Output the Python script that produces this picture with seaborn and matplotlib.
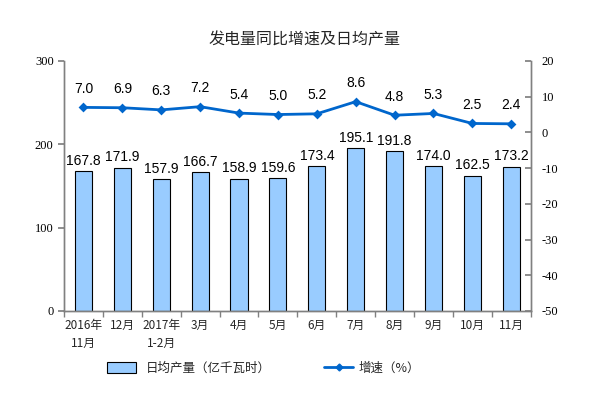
import matplotlib
matplotlib.use("Agg")
import matplotlib.pyplot as plt
import seaborn as sns
import pandas as pd
from matplotlib.patches import Patch
from matplotlib.lines import Line2D

categories = ["2016年\n11月", "12月", "2017年\n1-2月", "3月", "4月", "5月", "6月",
              "7月", "8月", "9月", "10月", "11月"]
daily_output = [167.8, 171.9, 157.9, 166.7, 158.9, 159.6, 173.4, 195.1, 191.8, 174.0, 162.5, 173.2]
growth = [7.0, 6.9, 6.3, 7.2, 5.4, 5.0, 5.2, 8.6, 4.8, 5.3, 2.5, 2.4]

sns.set_theme(style="white")
plt.rcParams['font.family'] = ['Noto Sans CJK SC', 'DejaVu Sans']

df = pd.DataFrame({"cat": categories, "out": daily_output, "g": growth})

fig = plt.figure(figsize=(6.1, 3.95), dpi=100)
ax = fig.add_axes([0.105, 0.2127, 0.765, 0.633])
bar_color = "#99CCFF"
line_color = "#0066CC"

sns.barplot(data=df, x="cat", y="out", ax=ax, color=bar_color, width=0.44,
            edgecolor="black", linewidth=0.8, saturation=1)
ax.set_ylim(0, 300)
ax.set_yticks([0, 100, 200, 300])
ax.set_xlabel("")
ax.set_ylabel("")
for i, v in enumerate(daily_output):
    ax.text(i, v + 4, f"{v:.1f}", ha="center", va="bottom", fontsize=10, color="black",
            family=["Liberation Sans", "DejaVu Sans"])

ax2 = ax.twinx()
sns.pointplot(data=df, x="cat", y="g", ax=ax2, color=line_color, markers="D",
              markersize=3.5, linewidth=2)
ax2.set_ylim(-50, 20)
ax2.set_yticks(range(-50, 21, 10))
ax2.set_ylabel("")
ax2.set_xlabel("")
for i, v in enumerate(growth):
    ax2.text(i, v + 3.2, f"{v:.1f}", ha="center", va="bottom", fontsize=10, color="black",
             family=["Liberation Sans", "DejaVu Sans"])

ax.set_xlim(-0.5, len(categories) - 0.5)
for a in (ax, ax2):
    for s in a.spines.values():
        s.set_color("#808080")
        s.set_linewidth(1)
    a.spines["top"].set_visible(False)

ax.tick_params(axis="y", direction="out", length=4, colors="#808080", labelcolor="black",
               labelsize=9, left=True)
ax.set_yticklabels(["0", "100", "200", "300"], family=["Liberation Serif", "DejaVu Serif"])
ax2.tick_params(axis="y", direction="in", length=4, colors="#808080", labelcolor="black",
                labelsize=9, right=True, pad=8)
ax2.set_yticklabels([str(t) for t in range(-50, 21, 10)], family=["Liberation Serif", "DejaVu Serif"])

ax.tick_params(axis="x", length=0, labelsize=8, pad=6)
ax.set_xticks(range(len(categories)))
ax.set_xticklabels(categories, fontsize=8.5, linespacing=1.5)
ax.set_xticks([i + 0.5 for i in range(-1, len(categories))], minor=True)
ax.tick_params(axis="x", which="minor", direction="out", length=4, color="#808080", bottom=True)

fig.text(0.5, 0.9, "发电量同比增速及日均产量", ha="center", va="center", fontsize=11.5,
         fontweight="medium")

handles = [Patch(facecolor=bar_color, edgecolor="black", linewidth=0.8),
           Line2D([0], [0], color=line_color, marker="D", markersize=3.5, linewidth=2)]
leg1 = fig.legend([handles[0]], ["日均产量（亿千瓦时）"], loc="center", bbox_to_anchor=(0.31, 0.068),
                  frameon=False, fontsize=9, handlelength=2.3, handleheight=0.9)
leg2 = fig.legend([handles[1]], ["增速（%）"], loc="center", bbox_to_anchor=(0.61, 0.068),
                  frameon=False, fontsize=9, handlelength=2.3, handletextpad=0.4)

fig.savefig("out.png", dpi=100)
